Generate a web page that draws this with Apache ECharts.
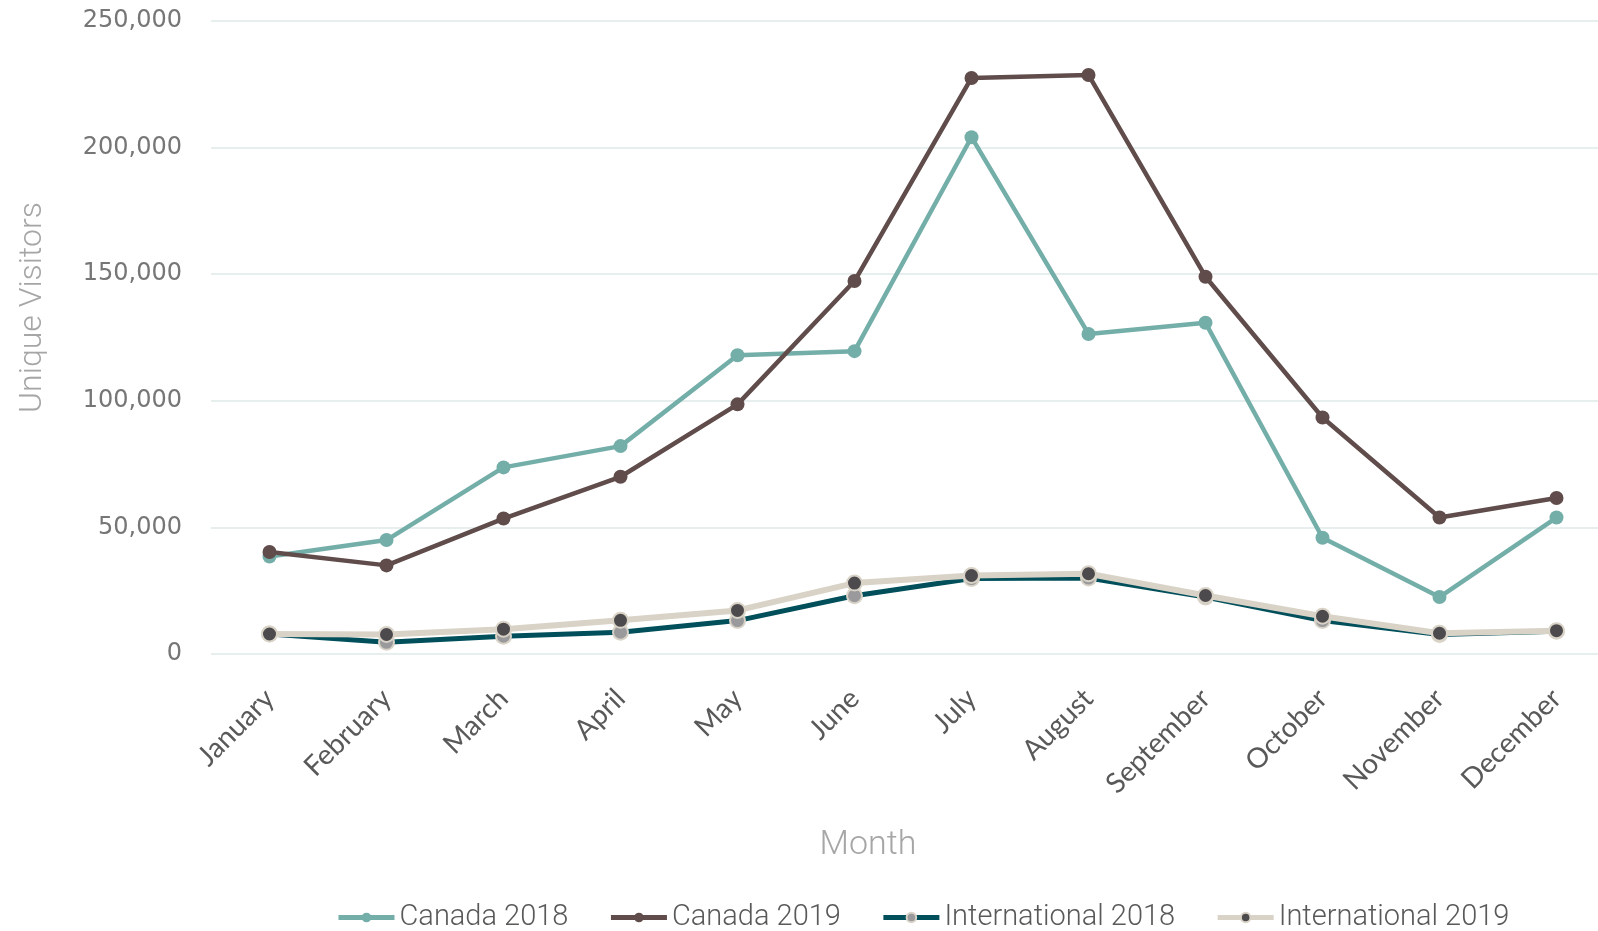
<!DOCTYPE html>
<html>
<head>
<meta charset="utf-8">
<script src="https://cdn.jsdelivr.net/npm/echarts@6/dist/echarts.min.js"></script>
<style>
  html, body { margin: 0; padding: 0; background: #ffffff; }
  #chart { width: 1598px; height: 931px; }
</style>
</head>
<body>
<div id="chart"></div>
<script>
// Monthly unique visitors by origin
const months = ['January', 'February', 'March', 'April', 'May', 'June',
  'July', 'August', 'September', 'October', 'November', 'December'];

const canada2018 = [38500, 45000, 73700, 82100, 118000, 119600, 204100, 126400, 130800, 45900, 22500, 53900];
const canada2019 = [40300, 35000, 53500, 70000, 98600, 147300, 227500, 228700, 149000, 93400, 53900, 61600];
const international2018 = [7900, 4600, 7000, 8600, 13200, 23000, 29800, 30000, 22500, 13200, 7700, 9000];
const international2019 = [7900, 7700, 9800, 13300, 17200, 28000, 31000, 31700, 23100, 14900, 8200, 9200];

const yTicks = [0, 50000, 100000, 150000, 200000, 250000];

const thinFont = 'Roboto, "Open Sans", sans-serif';

function lineSeries(name, data, lineColor, lineWidth, dotColor, dotBorder) {
  return {
    name: name,
    type: 'line',
    data: data,
    symbol: 'circle',
    symbolSize: dotBorder ? 15 : 14,
    lineStyle: { color: lineColor, width: lineWidth },
    itemStyle: {
      color: dotColor,
      borderColor: dotBorder || dotColor,
      borderWidth: dotBorder ? 2 : 0
    },
    emphasis: { disabled: true },
    animation: false
  };
}

const chart = echarts.init(document.getElementById('chart'));
chart.setOption({
  backgroundColor: '#ffffff',
  // the plot runs slightly past the right edge of the canvas
  grid: { left: 211, width: 1404, top: 21, bottom: 277, outerBoundsMode: 'none', containLabel: false },
  legend: {
    left: 331,
    bottom: -6,
    itemWidth: 56,
    itemHeight: 12,
    itemGap: 40,
    lineStyle: { width: 5 },
    textStyle: { fontFamily: thinFont, fontWeight: 300, fontSize: 29, color: '#595959' },
    data: ['Canada 2018', 'Canada 2019', 'International 2018', 'International 2019']
  },
  xAxis: {
    type: 'category',
    data: months,
    boundaryGap: true,
    name: 'Month',
    nameLocation: 'middle',
    nameGap: 174,
    nameTextStyle: { fontFamily: thinFont, fontWeight: 300, fontSize: 34, color: '#a6a6a6', padding: [0, 90, 0, 0] },
    axisLine: { show: false },
    axisTick: { show: false },
    axisLabel: {
      rotate: 45,
      margin: 40,
      fontFamily: '"Lato", "Open Sans", sans-serif',
      fontSize: 28,
      color: '#595959',
      interval: 0
    }
  },
  yAxis: {
    type: 'value',
    min: yTicks[0],
    max: yTicks[yTicks.length - 1],
    interval: yTicks[1] - yTicks[0],
    name: 'Unique Visitors',
    nameLocation: 'middle',
    nameGap: 162,
    nameTextStyle: { fontFamily: thinFont, fontWeight: 300, fontSize: 32, color: '#a6a6a6', padding: [0, 0, 0, 60] },
    axisLine: { show: false },
    axisTick: { show: false },
    axisLabel: {
      margin: 29,
      fontFamily: '"DejaVu Sans", sans-serif',
      fontSize: 24,
      color: '#767676',
      formatter: v => v.toLocaleString('en-US')
    },
    splitLine: { lineStyle: { color: '#e6eeee', width: 2 } }
  },
  series: [
    lineSeries('Canada 2018', canada2018, '#74aea9', 4.5, '#74aea9'),
    lineSeries('Canada 2019', canada2019, '#5f4c4b', 4.5, '#5f4c4b'),
    lineSeries('International 2018', international2018, '#004f5b', 5, '#9a9a9c', '#d9d3c7'),
    lineSeries('International 2019', international2019, '#d9d3c7', 6, '#4d4a4d', '#d9d3c7')
  ]
});
</script>
</body>
</html>
